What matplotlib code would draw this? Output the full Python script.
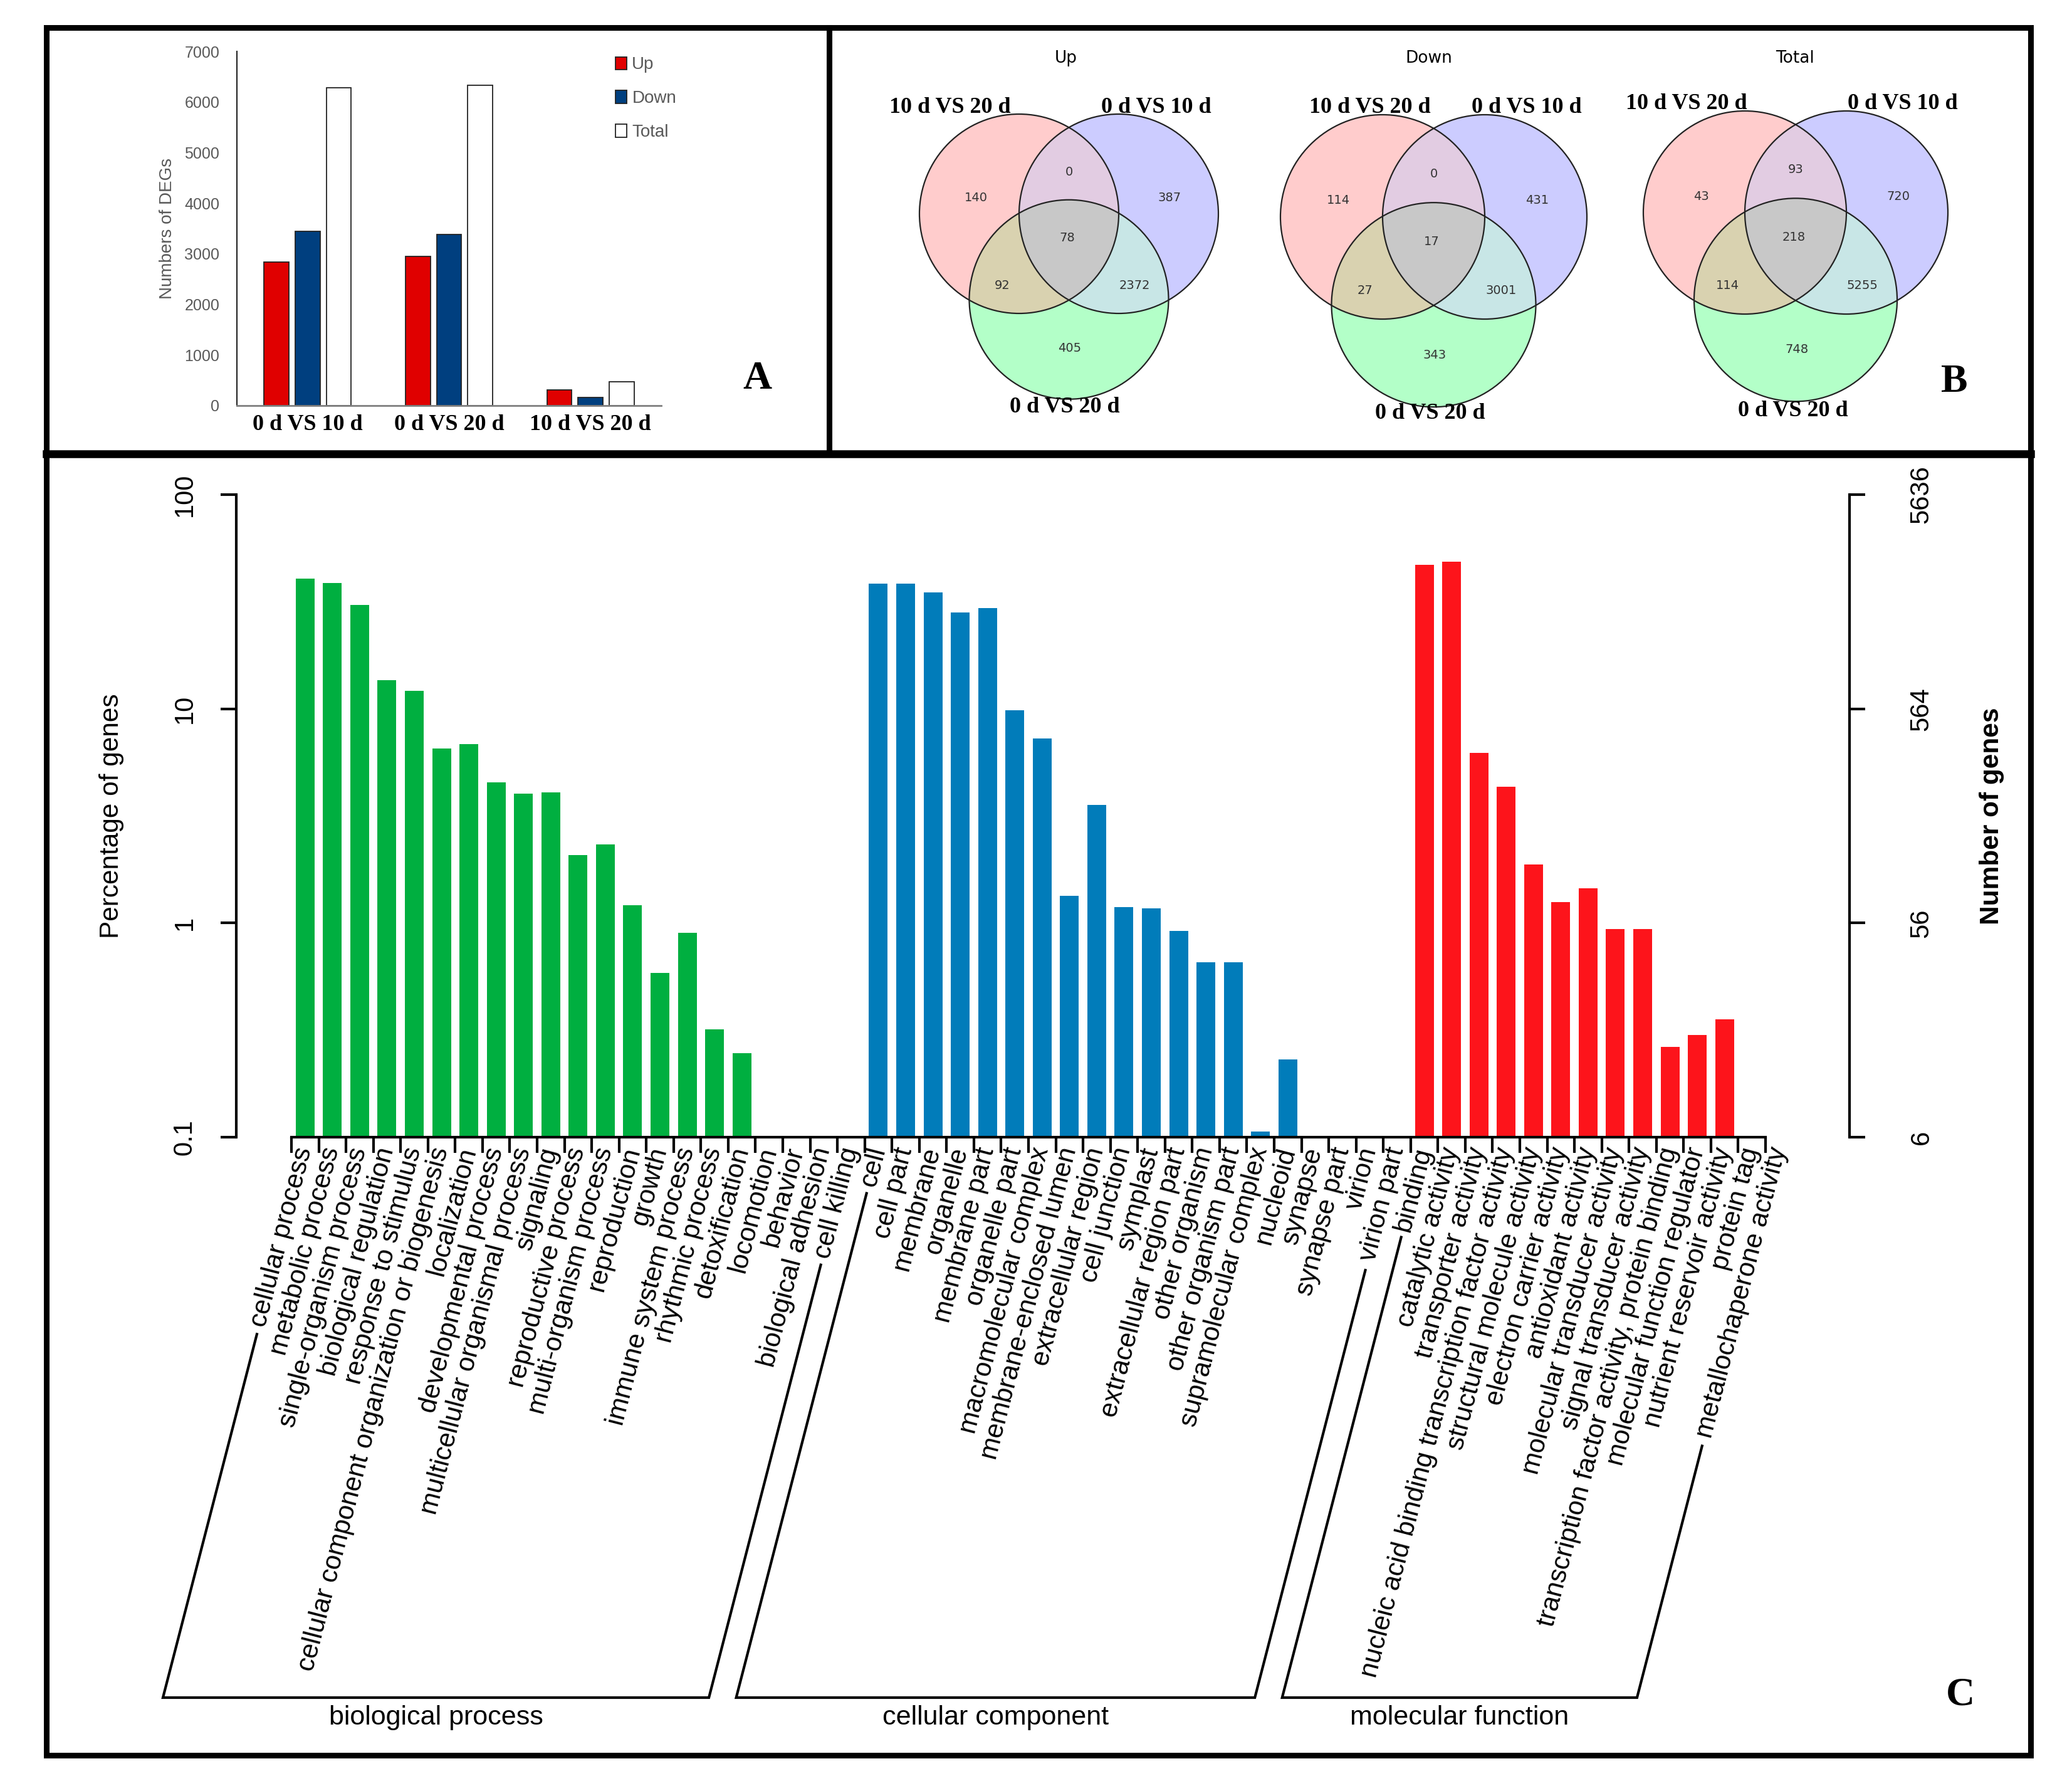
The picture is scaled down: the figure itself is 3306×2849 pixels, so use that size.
import numpy as np
import matplotlib
matplotlib.use('Agg')
import matplotlib.pyplot as plt
from matplotlib.patches import Circle, Rectangle
from matplotlib.textpath import TextPath
from matplotlib.font_manager import FontProperties
from matplotlib.colors import to_rgba
from matplotlib.ticker import NullLocator
import matplotlib.transforms as mtransforms

W, H, DPI = 3306, 2849, 100

# ---------------- data ----------------
comparisons = ['0 d VS 10 d', '0 d VS 20 d', '10 d VS 20 d']
deg_series = ['Up', 'Down', 'Total']
deg_up = [2837, 2947, 310]
deg_down = [3449, 3388, 158]
deg_total = [6286, 6335, 468]
deg_ticks = [0, 1000, 2000, 3000, 4000, 5000, 6000, 7000]

venn_titles = ['Up', 'Down', 'Total']
venn_set_names = ['10 d VS 20 d', '0 d VS 10 d', '0 d VS 20 d']
venn_regions = ['A', 'B', 'AB', 'C', 'AC', 'BC', 'ABC']
venn_up = [140, 387, 0, 405, 92, 2372, 78]
venn_down = [114, 431, 0, 343, 27, 3001, 17]
venn_total = [43, 720, 93, 748, 114, 5255, 218]

bp_terms = ['cellular process', 'metabolic process', 'single-organism process',
            'biological regulation', 'response to stimulus',
            'cellular component organization or biogenesis', 'localization',
            'developmental process', 'multicellular organismal process', 'signaling',
            'reproductive process', 'multi-organism process', 'reproduction', 'growth',
            'immune system process', 'rhythmic process', 'detoxification', 'locomotion',
            'behavior', 'biological adhesion', 'cell killing']
bp_pct = [40.4, 38.7, 30.5, 13.6, 12.1, 6.54, 6.86, 4.55, 4.02, 4.08, 2.07, 2.33,
          1.21, 0.583, 0.90, 0.318, 0.247, 0, 0, 0, 0]
cc_terms = ['cell', 'cell part', 'membrane', 'organelle', 'membrane part', 'organelle part',
            'macromolecular complex', 'membrane-enclosed lumen', 'extracellular region',
            'cell junction', 'symplast', 'extracellular region part', 'other organism',
            'other organism part', 'supramolecular complex', 'nucleoid', 'synapse',
            'synapse part', 'virion', 'virion part']
cc_pct = [38.4, 38.4, 34.9, 28.1, 29.5, 9.82, 7.29, 1.34, 3.57, 1.19, 1.17, 0.918,
          0.654, 0.654, 0.106, 0.231, 0, 0, 0, 0]
mf_terms = ['binding', 'catalytic activity', 'transporter activity',
            'nucleic acid binding transcription factor activity',
            'structural molecule activity', 'electron carrier activity',
            'antioxidant activity', 'molecular transducer activity',
            'signal transducer activity', 'transcription factor activity, protein binding',
            'molecular function regulator', 'nutrient reservoir activity', 'protein tag',
            'metallochaperone activity']
mf_pct = [47.0, 48.6, 6.24, 4.32, 1.87, 1.25, 1.45, 0.94, 0.94, 0.264, 0.299, 0.354, 0, 0]
go_groups = ['biological process', 'cellular component', 'molecular function']
total_genes = 5636
pct_ticks = [0.1, 1, 10, 100]

# ---------------- helpers ----------------
def fx(px):
    return px / W

def fy(py):
    return 1 - py / H

plt.rcParams['font.family'] = ['Liberation Sans', 'DejaVu Sans']
fig = plt.figure(figsize=(W / DPI, H / DPI), dpi=DPI)

# ================= Panel A =================
axA = fig.add_axes([fx(378), fy(647), fx(1055) - fx(378), fy(82) - fy(647)])
xA = np.arange(len(comparisons))
colsA = ['#E00000', '#003F7F', '#FFFFFF']
for k, vals in enumerate([deg_up, deg_down, deg_total]):
    axA.bar(xA + (k - 1) * 0.22, vals, 0.177, color=colsA[k], edgecolor='#222222',
            linewidth=1.3, label=deg_series[k])
axA.set_xlim(-0.5, 2.5)
axA.set_ylim(0, 7000)
axA.set_yticks(deg_ticks)
axA.tick_params(axis='y', length=0, pad=20, labelsize=18, labelcolor='#595959')
axA.set_xticks(xA)
axA.set_xticklabels(comparisons, family='Liberation Serif', fontweight='bold', fontsize=26)
axA.tick_params(axis='x', length=0, pad=10)
for s in ['top', 'right']:
    axA.spines[s].set_visible(False)
axA.spines['left'].set_color('#222222')
axA.spines['left'].set_linewidth(1.5)
axA.spines['bottom'].set_color('#7F7F7F')
axA.spines['bottom'].set_linewidth(2)
axA.set_ylabel('Numbers of DEGs', fontsize=20, color='#595959', va='center')
axA.yaxis.set_label_coords(-0.164, 0.5)
leg = axA.legend(loc='upper left', bbox_to_anchor=(0.892, 0.985), frameon=False,
                 fontsize=20, handlelength=0.65, handleheight=0.75, handletextpad=0.3,
                 labelspacing=1.0, borderpad=0, borderaxespad=0)
for t in leg.get_texts():
    t.set_color('#595959')

# ================= Panel C =================
terms = bp_terms + cc_terms + mf_terms
pcts = np.array(bp_pct + cc_pct + mf_pct, dtype=float)
colors = np.array(['#00AF40'] * len(bp_terms) + ['#017CBA'] * len(cc_terms) +
                  ['#FD141B'] * len(mf_terms))
x0px, x_end_px = 465, 2817
unit = (x_end_px - x0px) / (len(terms) - 1)
left_px, right_px, top_px, bot_px = 377, 2951, 789, 1814
axC = fig.add_axes([fx(left_px), fy(bot_px), fx(right_px) - fx(left_px), fy(top_px) - fy(bot_px)])
axC.set_yscale('log')
xs = np.arange(len(terms)) + 0.5
m = pcts > 0
axC.bar(xs[m], pcts[m], 0.69, color=colors[m], linewidth=0)
axC.set_xlim((left_px - x0px) / unit, (right_px - x0px) / unit)
axC.set_ylim(0.1, 100)
for s in ['top', 'right']:
    axC.spines[s].set_visible(False)
axC.spines['left'].set_linewidth(3)
axC.spines['bottom'].set_linewidth(3)
axC.spines['bottom'].set_bounds(0, len(terms) - 1)
axC.set_xticks(np.arange(len(terms)))
axC.set_xticklabels([])
axC.tick_params(axis='x', direction='out', length=18, width=3)
axC.yaxis.set_minor_locator(NullLocator())
axC.set_yticks(pct_ticks)
axC.set_yticklabels([f'{t:g}' for t in pct_ticks])
axC.tick_params(axis='y', direction='out', length=18, width=3, labelsize=30, pad=27,
                labelrotation=90)
for t in axC.get_yticklabels():
    t.set_va('center')
axC.set_ylabel('Percentage of genes', fontsize=30.5, va='center')
axC.yaxis.set_label_coords((178 - left_px) / (right_px - left_px), 0.5)

axR = axC.twinx()
axR.set_yscale('log')
axR.set_ylim(total_genes * 0.1 / 100, total_genes)
rt = [total_genes * t / 100 for t in pct_ticks]
axR.yaxis.set_minor_locator(NullLocator())
axR.set_yticks(rt)
axR.set_yticklabels([str(int(round(v))) for v in rt])
axR.yaxis.set_minor_locator(NullLocator())
for s in ['top', 'left', 'bottom']:
    axR.spines[s].set_visible(False)
axR.spines['right'].set_linewidth(3)
axR.tick_params(axis='y', direction='out', length=18, width=3, labelsize=30, pad=50,
                labelrotation=90)
for t in axR.get_yticklabels():
    t.set_va('center')
axR.set_ylabel('Number of genes', fontsize=30.5, fontweight='bold', va='center')
axR.yaxis.set_label_coords((3178 - left_px) / (right_px - left_px), 0.5)

ROT = 75.5
LAB_FS = 30.5
lab_tr = mtransforms.offset_copy(axC.transData, fig=fig, x=0, y=-17, units='dots')
for xi, t in zip(xs, terms):
    axC.text(xi, 0.1, t, transform=lab_tr, rotation=ROT, rotation_mode='anchor',
             ha='right', va='center', fontsize=LAB_FS, clip_on=False)

# ================= overlay (pixel coords) =================
ov = fig.add_axes([0, 0, 1, 1])
ov.axis('off')

# --- Venn diagrams (panel B)
venn_counts = [venn_up, venn_down, venn_total]
venn_A = [(1626, 341), (2206, 346), (2784, 339)]
venn_r = [159, 163, 162]
region_colors = {'A': '#FFCCCC', 'B': '#CCCCFF', 'AB': '#E2CCE2', 'C': '#B3FFC8',
                 'AC': '#D9D2B0', 'BC': '#C8E6E6', 'ABC': '#C8C8C8'}
label_off = {'A': (-0.43, -0.16), 'AB': (0.50, -0.42), 'B': (1.51, -0.16),
             'ABC': (0.48, 0.245), 'AC': (-0.17, 0.72), 'BC': (1.16, 0.72), 'C': (0.51, 1.35)}
setlab_pos = [[(1516, 171), (1845, 171), (1699, 649)],
              [(2186, 172), (2436, 172), (2282, 660)],
              [(2691, 165), (3036, 165), (2861, 656)]]
title_pos = [(1701, 93), (2280, 93), (2864, 93)]
code_map = {1: 'A', 2: 'B', 3: 'AB', 4: 'C', 5: 'AC', 6: 'BC', 7: 'ABC'}
for v in range(3):
    (cxA, cyA), r = venn_A[v], venn_r[v]
    centers = [(cxA, cyA), (cxA + r, cyA), (cxA + 0.5 * r, cyA + 0.86 * r)]
    gx0, gx1 = int(cxA - r - 4), int(cxA + 2 * r + 4)
    gy0, gy1 = int(cyA - r - 4), int(cyA + 1.86 * r + 4)
    X, Y = np.meshgrid(np.arange(gx0, gx1) + 0.5, np.arange(gy0, gy1) + 0.5)
    code = np.zeros(X.shape, dtype=int)
    for k, (cx, cy) in enumerate(centers):
        code += (((X - cx) ** 2 + (Y - cy) ** 2) <= r * r).astype(int) << k
    img = np.zeros(X.shape + (4,))
    for c, name in code_map.items():
        img[code == c] = to_rgba(region_colors[name])
    ov.imshow(img, extent=(gx0, gx1, gy1, gy0), origin='upper', interpolation='bilinear',
              aspect='auto', zorder=1)
    for cx, cy in centers:
        ov.add_patch(Circle((cx, cy), r, fill=False, ec='#222222', lw=1.6, zorder=2))
    for name, cnt in zip(venn_regions, venn_counts[v]):
        ox, oy = label_off[name]
        ov.text(cxA + ox * r, cyA + oy * r, str(cnt), ha='center', va='center',
                fontsize=14, family='DejaVu Sans', color='#333333', zorder=3)
    for (px, py), name in zip(setlab_pos[v], venn_set_names):
        ov.text(px, py, name, ha='center', va='center', family='Liberation Serif',
                fontweight='bold', fontsize=26, zorder=3)
    ov.text(title_pos[v][0], title_pos[v][1], venn_titles[v], ha='center', va='center',
            family='DejaVu Sans', fontsize=19, zorder=3)

# --- GO group brackets (panel C)
fp_lab = FontProperties(family='Liberation Sans', size=LAB_FS)

def text_len_px(s):
    return TextPath((0, 0), s, prop=fp_lab).get_extents().width * DPI / 72.0

theta = np.deg2rad(ROT)
dvec = np.array([-np.cos(theta), np.sin(theta)])
ybot = 2708
nb, nc, nm = len(bp_terms), len(cc_terms), len(mf_terms)
group_bounds = [(0, nb - 1), (nb, nb + nc - 1), (nb + nc, nb + nc + nm - 1)]

def anchor(i):
    X_, Y_ = axC.transData.transform((xs[i], 0.1))
    return np.array([X_, H - Y_ + 17])

for g, (s, e) in enumerate(group_bounds):
    pts = []
    for i in (s, e):
        a = anchor(i)
        top = a + dvec * (text_len_px(terms[i]) + 14)
        bot = a + dvec * ((ybot - a[1]) / dvec[1])
        pts.append((top, bot))
    (ts, bs), (te, be) = pts
    ov.plot([ts[0], bs[0], be[0], te[0]], [ts[1], bs[1], be[1], te[1]], color='black',
            lw=3, solid_joinstyle='miter', solid_capstyle='butt')
    ov.text((bs[0] + be[0]) / 2, ybot + 12, go_groups[g], ha='center', va='top', fontsize=31)

# --- panel borders and letters
XL, XR, YT, YB = 74, 3240, 44, 2800
ov.add_patch(Rectangle((XL, YT), XR - XL, YB - YT, fill=False, ec='black', lw=6.5,
                       zorder=5))
ov.plot([1323, 1323], [YT, 724], color='black', lw=6.5, zorder=5)
ov.plot([XL, XR], [724, 724], color='black', lw=9, zorder=5)
for lab, (px, py) in zip(['A', 'B', 'C'], [(1208, 605), (3118, 610), (3128, 2705)]):
    ov.text(px, py, lab, ha='center', va='center', family='Liberation Serif',
            fontweight='bold', fontsize=46, zorder=5)

ov.set_xlim(0, W)
ov.set_ylim(H, 0)

fig.savefig('out.png', dpi=DPI, facecolor='white')
